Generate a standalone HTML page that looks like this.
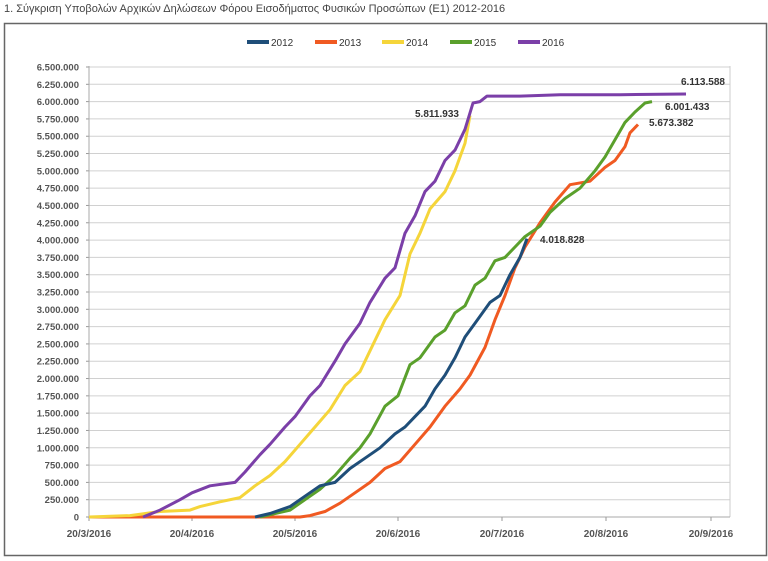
<!DOCTYPE html>
<html><head><meta charset="utf-8"><style>
html,body{margin:0;padding:0;background:#fff;width:768px;height:561px;overflow:hidden}
svg{display:block}
text{font-family:"Liberation Sans","DejaVu Sans",sans-serif}
</style></head><body>
<svg id="s" width="768" height="561" xmlns="http://www.w3.org/2000/svg">
<text x="4" y="12" font-size="11" fill="#444" font-family="Liberation Sans Narrow, Liberation Sans, sans-serif">1. Σύγκριση Υποβολών Αρχικών Δηλώσεων Φόρου Εισοδήματος Φυσικών Προσώπων (Ε1) 2012-2016</text>
<rect x="4.5" y="23.5" width="762" height="532" fill="#fff" stroke="#666" stroke-width="1.5"/>
<g id="grid"></g>
<g id="lines" fill="none" stroke-width="3" stroke-linejoin="round"></g>
<g font-size="10" fill="#333">
<rect x="247" y="40" width="22" height="4" fill="#1f4e79"/><text x="271" y="46">2012</text>
<rect x="315" y="40" width="22" height="4" fill="#f05a22"/><text x="339" y="46">2013</text>
<rect x="382" y="40" width="22" height="4" fill="#f5d53a"/><text x="406" y="46">2014</text>
<rect x="450" y="40" width="22" height="4" fill="#5aa02c"/><text x="474" y="46">2015</text>
<rect x="518" y="40" width="22" height="4" fill="#7b3fa8"/><text x="542" y="46">2016</text>
</g>
<g font-size="10" font-weight="bold" fill="#333">
<text x="415" y="117">5.811.933</text>
<text x="681" y="85">6.113.588</text>
<text x="665" y="110">6.001.433</text>
<text x="649" y="126">5.673.382</text>
<text x="540" y="243">4.018.828</text>
</g>
</svg>
<script>
var ns="http://www.w3.org/2000/svg",g=document.getElementById('grid'),L=document.getElementById('lines');
function el(t,a,p){var e=document.createElementNS(ns,t);for(var k in a)e.setAttribute(k,a[k]);p.appendChild(e);return e;}
function Y(v){return 517-v/6.5*450;}
for(var i=0;i<=26;i++){var v=i*0.25,y=Y(v);
 el('line',{x1:89,x2:730,y1:y,y2:y,stroke:'#d0d0d0','stroke-width':1},g);
 el('line',{x1:86,x2:89,y1:y,y2:y,stroke:'#999','stroke-width':1},g);
 var s=i==0?'0':(function(n){var m=Math.round(n*1000000);return m.toString().replace(/\B(?=(\d{3})+(?!\d))/g,'.');})(v);
 var t=el('text',{x:79,y:y+3.5,'text-anchor':'end','font-size':'9.5','font-weight':'bold',fill:'#555'},g);t.textContent=s;}
el('line',{x1:89,x2:89,y1:66,y2:517,stroke:'#aaa'},g);
el('line',{x1:730,x2:730,y1:66,y2:517,stroke:'#ccc'},g);
el('line',{x1:89,x2:730,y1:517,y2:517,stroke:'#aaa'},g);
var xl=[[89,'20/3/2016'],[192,'20/4/2016'],[295,'20/5/2016'],[398,'20/6/2016'],[502,'20/7/2016'],[606,'20/8/2016'],[711,'20/9/2016']];
xl.forEach(function(a){el('line',{x1:a[0],x2:a[0],y1:517,y2:521,stroke:'#999'},g);
 var t=el('text',{x:a[0],y:537,'text-anchor':'middle','font-size':'10','font-weight':'bold',fill:'#555'},g);t.textContent=a[1];});
var D={
'#f05a22':[[89,0],[300,0],[310,.02],[325,.08],[340,.2],[355,.35],[370,.5],[385,.7],[400,.8],[415,1.05],[430,1.3],[445,1.6],[460,1.85],[470,2.05],[485,2.45],[495,2.85],[505,3.2],[515,3.6],[525,3.9],[540,4.25],[555,4.55],[570,4.8],[590,4.85],[605,5.05],[615,5.15],[625,5.35],[630,5.55],[638,5.67]],
'#f5d53a':[[89,0],[130,.02],[160,.08],[190,.1],[200,.15],[220,.22],[240,.28],[255,.45],[270,.6],[285,.8],[300,1.05],[315,1.3],[330,1.55],[345,1.9],[360,2.1],[370,2.4],[385,2.85],[400,3.2],[410,3.8],[420,4.1],[430,4.45],[445,4.7],[455,5.0],[465,5.4],[470,5.8]],
'#5aa02c':[[260,0],[275,.05],[290,.1],[305,.25],[320,.4],[335,.6],[350,.85],[360,1.0],[370,1.2],[385,1.6],[398,1.75],[410,2.2],[420,2.3],[435,2.6],[445,2.7],[455,2.95],[465,3.05],[475,3.35],[485,3.45],[495,3.7],[505,3.75],[515,3.9],[525,4.05],[540,4.2],[550,4.4],[565,4.6],[580,4.75],[595,5.0],[605,5.2],[615,5.45],[625,5.7],[635,5.85],[645,5.98],[652,6.0]],
'#1f4e79':[[255,0],[270,.05],[290,.15],[305,.3],[320,.45],[335,.5],[350,.7],[365,.85],[380,1.0],[395,1.2],[405,1.3],[415,1.45],[425,1.6],[435,1.85],[445,2.05],[455,2.3],[465,2.6],[475,2.8],[490,3.1],[500,3.2],[510,3.5],[520,3.75],[527,4.02]],
'#7b3fa8':[[143,0],[160,.1],[180,.25],[192,.35],[210,.45],[235,.5],[245,.65],[260,.9],[270,1.05],[285,1.3],[295,1.45],[310,1.75],[320,1.9],[335,2.25],[345,2.5],[360,2.8],[370,3.1],[385,3.45],[395,3.6],[405,4.1],[415,4.35],[425,4.7],[435,4.85],[445,5.15],[455,5.3],[465,5.6],[473,5.98],[480,6.0],[487,6.08],[520,6.08],[560,6.1],[620,6.1],[686,6.11]]};
for(var c in D){el('polyline',{points:D[c].map(function(p){return p[0]+','+Y(p[1]).toFixed(1)}).join(' '),stroke:c},L);}
</script>
</body></html>
